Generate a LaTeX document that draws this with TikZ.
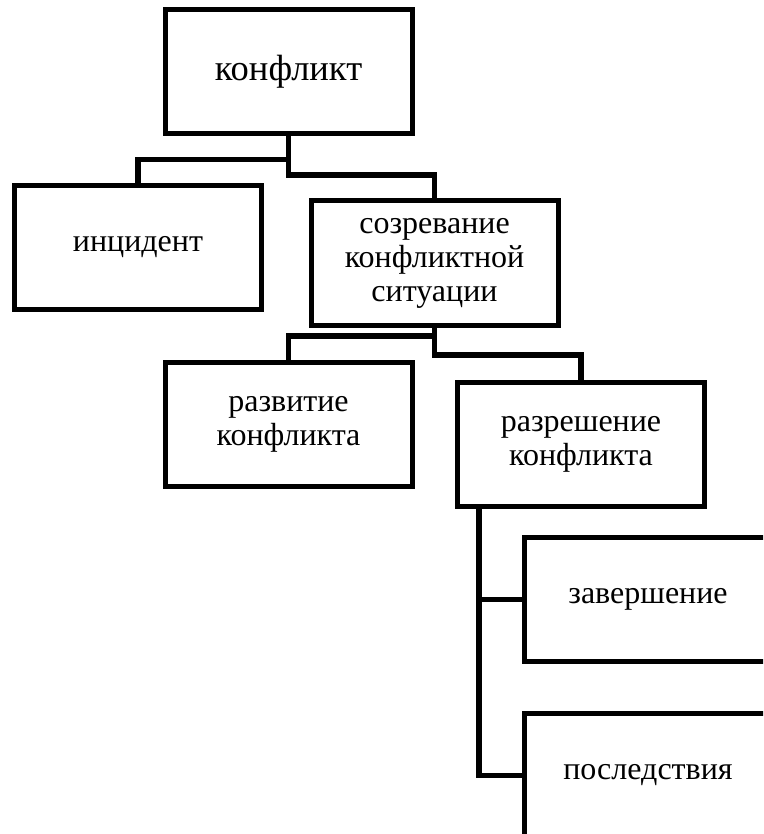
\documentclass[tikz,border=0pt]{standalone}
\usepackage{fontspec}
\setmainfont{Liberation Serif}
\begin{document}
\begin{tikzpicture}[x=1pt,y=-1pt,
  box/.style={draw=black,line width=5pt,rectangle,minimum width=247pt,minimum height=124pt,inner sep=0pt,align=center,font=\fontsize{32}{34}\selectfont},
  conn/.style={draw=black,line width=5.2pt}]
\useasboundingbox (0,0) rectangle (763,834);
\clip (0,0) rectangle (763,834);
\node[box,font=\fontsize{36.5}{38}\selectfont] (A) at (288.5,72) {\raisebox{-3pt}{конфликт}};
\node[box] (B) at (138,247.5) {\raisebox{-2pt}{инцидент}};
\node[box] (C) at (434.5,263) {созревание\\конфликтной\\ситуации};
\node[box] (D) at (288.5,424.5) {развитие\\конфликта};
\node[box] (E) at (581,444.5) {разрешение\\конфликта};
\node[box] (F) at (648,599.5) {\raisebox{-2pt}{завершение}};
\node[box] (G) at (648,775.5) {\raisebox{-2pt}{последствия}};
\coordinate (ab) at (288.5,159.5);
\coordinate (ac) at (288.5,175);
\coordinate (cd) at (434.5,336);
\coordinate (ce) at (434.5,355);
\coordinate (et) at ([xshift=24pt]E.south west);
\draw[conn] (A.south) -- (ab) -| (B.north);
\draw[conn] (A.south) -- (ac) -| (C.north);
\draw[conn] (C.south) -- (cd) -| (D.north);
\draw[conn] (C.south) -- (ce) -| (E.north);
\draw[conn] (et) |- (F.west);
\draw[conn] (et) |- (G.west);
\end{tikzpicture}
\end{document}
